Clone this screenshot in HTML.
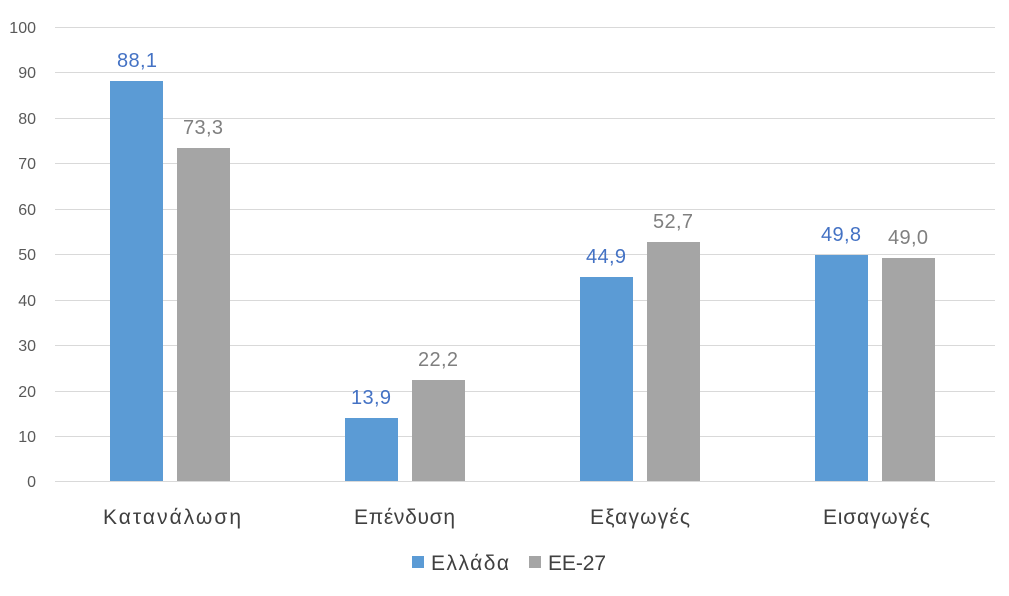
<!DOCTYPE html>
<html><head><meta charset="utf-8"><style>
body{margin:0;background:#fff;}
svg text{font-family:"Liberation Sans","DejaVu Sans",sans-serif;}
</style></head><body>
<svg width="1009" height="591" xmlns="http://www.w3.org/2000/svg">
<rect width="1009" height="591" fill="#fff"/>
<g stroke="#d9d9d9" stroke-width="1">
<line x1="55" x2="995" y1="27.5" y2="27.5"/>
<line x1="55" x2="995" y1="72.5" y2="72.5"/>
<line x1="55" x2="995" y1="118.5" y2="118.5"/>
<line x1="55" x2="995" y1="163.5" y2="163.5"/>
<line x1="55" x2="995" y1="209.5" y2="209.5"/>
<line x1="55" x2="995" y1="254.5" y2="254.5"/>
<line x1="55" x2="995" y1="300.5" y2="300.5"/>
<line x1="55" x2="995" y1="345.5" y2="345.5"/>
<line x1="55" x2="995" y1="391.5" y2="391.5"/>
<line x1="55" x2="995" y1="436.5" y2="436.5"/>
<line x1="55" x2="995" y1="481.5" y2="481.5"/>
</g>
<g font-size="16" fill="#595959" text-anchor="end">
<text x="36" y="33">100</text><text x="36" y="78">90</text><text x="36" y="124">80</text>
<text x="36" y="169">70</text><text x="36" y="215">60</text><text x="36" y="260">50</text>
<text x="36" y="306">40</text><text x="36" y="351">30</text><text x="36" y="397">20</text>
<text x="36" y="442">10</text><text x="36" y="487">0</text>
</g>
<g fill="#5B9BD5">
<rect x="110" y="81" width="53" height="400"/>
<rect x="345" y="418" width="53" height="63"/>
<rect x="580" y="277" width="53" height="204"/>
<rect x="815" y="255" width="53" height="226"/>
</g>
<g fill="#A5A5A5">
<rect x="177" y="148" width="53" height="333"/>
<rect x="412" y="380" width="53" height="101"/>
<rect x="647" y="242" width="53" height="239"/>
<rect x="882" y="258" width="53" height="223"/>
</g>
<g font-size="20" fill="#4472C4">
<text x="117" y="67" textLength="40">88,1</text><text x="351" y="404" textLength="40">13,9</text>
<text x="586" y="263" textLength="40">44,9</text><text x="821" y="241" textLength="40">49,8</text>
</g>
<g font-size="20" fill="#7f7f7f">
<text x="183" y="134" textLength="40">73,3</text><text x="418" y="366" textLength="40">22,2</text>
<text x="653" y="228" textLength="40">52,7</text><text x="888" y="244" textLength="40">49,0</text>
</g>
<g font-size="21" fill="#404040">
<text x="103" y="524" textLength="138">Κατανάλωση</text><text x="354" y="524" textLength="101">Επένδυση</text>
<text x="590" y="524" textLength="100">Εξαγωγές</text><text x="823" y="524" textLength="107">Εισαγωγές</text>
</g>
<rect x="412" y="556" width="12" height="12" fill="#5B9BD5"/>
<text x="431" y="570" font-size="21" fill="#404040" textLength="78">Ελλάδα</text>
<rect x="529" y="556" width="12" height="12" fill="#A5A5A5"/>
<text x="548" y="570" font-size="21" fill="#404040" textLength="58">ΕΕ-27</text>
</svg>
</body></html>
